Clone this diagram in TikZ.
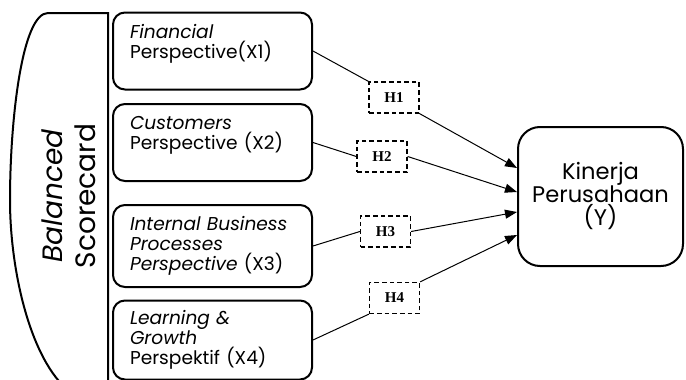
\documentclass[tikz,border=0pt]{standalone}
\usepackage{fontspec}
\setmainfont{Poppins}
\newfontfamily\hypfont{Liberation Serif}
\usetikzlibrary{arrows.meta}

\begin{document}
\begin{tikzpicture}[
    x=0.5pt, y=-0.5pt,
    persp/.style={
      draw,
      line width=1pt,
      rounded corners=6pt,
      minimum width=99.5pt,
      minimum height=38.5pt,
      inner xsep=8.5pt,
      text width=82.5pt,
      align=left,
      font=\fontsize{9.3}{10}\selectfont,
    },
    hyp/.style={
      draw,
      dash pattern=on 2.3pt off 1.5pt,
      line width=0.65pt,
      minimum width=25pt,
      minimum height=15.5pt,
      inner sep=0pt,
      font=\hypfont\bfseries\fontsize{7.5}{8}\selectfont,
    },
    link/.style={line width=0.5pt},
    arr/.style={link, -{Triangle[length=6pt,width=4.5pt]}},
  ]
    \useasboundingbox (0,0) rectangle (686,380);
    \clip (0,0) rectangle (686,380);

    % balanced scorecard bracket
    \draw[line width=1pt] (108,392) -- (108,13) -- (48,13)
      .. controls (22,13) and (10,120) .. (10,200)
      .. controls (10,270) and (30,360) .. (70,392);
    \node[rotate=90, align=center, font=\fontsize{14}{16.5}\selectfont]
      (bsc) at (68.5,196) {\textit{Balanced}\\Scorecard};

    % perspectives
    \node[persp] (fin) at (212.5,51) {\textit{Financial}\\Perspective(X1)\\\mbox{}};
    \node[persp] (cus) at (212.5,142.5) {\textit{Customers}\\Perspective (X2)\\\mbox{}};
    \node[persp, minimum height=41pt] (ibp) at (212.5,246)
      {\textit{Internal Business\\Processes\\Perspective} (X3)};
    \node[persp, minimum height=39.5pt] (lng) at (212.5,340)
      {\textit{Learning \&\\Growth}\\Perspektif (X4)};

    % hypotheses
    \node[hyp] (h1) at (394,97.5) {H1};
    \node[hyp] (h2) at (382,156.5) {H2};
    \node[hyp] (h3) at (385.5,231.5) {H3};
    \node[hyp] (h4) at (394.5,298) {H4};

    % firm performance
    \node[draw, line width=1pt, rounded corners=11pt, minimum width=82.5pt,
      minimum height=69.5pt, align=center, font=\fontsize{11.3}{11.5}\selectfont]
      (kin) at (600.5,196.5) {Kinerja\\Perusahaan\\(Y)};

    \draw[link] (fin.east) -- (h1.north west);
    \draw[arr] (h1.south east) -- ([yshift=14.25pt]kin.west);
    \draw[link] (cus.east) -- (h2.west);
    \draw[arr] (h2.east) -- ([yshift=2.25pt]kin.west);
    \draw[link] (ibp.east) -- (h3.west);
    \draw[arr] (h3.east) -- ([yshift=-7.75pt]kin.west);
    \draw[link] (lng.east) -- (h4.south west);
    \draw[arr] (h4.north east) -- ([yshift=-19.25pt]kin.west);
  \end{tikzpicture}
\end{document}
